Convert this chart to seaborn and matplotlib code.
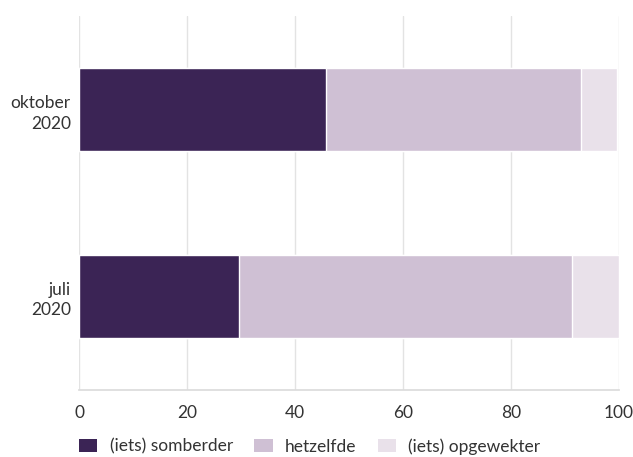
import pandas as pd
import matplotlib.pyplot as plt
import seaborn as sns
from matplotlib.patches import Patch

# Data (percentages)
periods = ['oktober\n2020', 'juli\n2020']
somberder = [45.7, 29.6]
hetzelfde = [47.3, 61.7]
opgewekter = [6.7, 8.7]
series_names = ['(iets) somberder', 'hetzelfde', '(iets) opgewekter']
colors = ['#3b2455', '#cfc0d4', '#e9e1ea']
xticks = [0, 20, 40, 60, 80, 100]

sns.set_theme(style='white')
plt.rcParams['font.family'] = ['Lato', 'DejaVu Sans']

df = pd.DataFrame({'periode': periods, 'somberder': somberder,
                   'hetzelfde': hetzelfde, 'opgewekter': opgewekter})
# Cumulative totals for stacking
df['cum1'] = df['somberder']
df['cum2'] = df['cum1'] + df['hetzelfde']
df['cum3'] = df['cum2'] + df['opgewekter']

fig, ax = plt.subplots(figsize=(6.33, 4.57), dpi=100)
fig.subplots_adjust(left=0.125, right=0.978, top=0.965, bottom=0.147)

# Draw from the longest stack to the shortest so each layer sits on top
for col, color in zip(['cum3', 'cum2', 'cum1'], colors[::-1]):
    sns.barplot(data=df, y='periode', x=col, orient='h', color=color,
                width=0.446, saturation=1, ax=ax, zorder=3)

ax.set_xlim(0, 100)
ax.set_ylim(1.5, -0.5)
ax.set_xticks(xticks)
ax.set_xlabel('')
ax.set_ylabel('')
ax.grid(axis='x', color='#e3e3e3', linewidth=1, zorder=0)
ax.set_axisbelow(True)
for side in ['top', 'right', 'left']:
    ax.spines[side].set_visible(False)
ax.spines['bottom'].set_color('#dcdcdc')
ax.tick_params(axis='both', length=0, labelsize=12.5, colors='#333333')
ax.tick_params(axis='x', pad=11)
ax.tick_params(axis='y', pad=6)
for lab in ax.get_yticklabels():
    lab.set_horizontalalignment('right')
    lab.set_multialignment('right')
    lab.set_linespacing(1.35)

handles = [Patch(facecolor=c, edgecolor='none') for c in colors]
leg = ax.legend(handles, series_names, loc='center left', bbox_to_anchor=(0, -0.151),
                ncol=3, frameon=False, fontsize=12.5, handlelength=1.05, handleheight=0.75,
                handletextpad=0.7, columnspacing=1.25, borderaxespad=0, borderpad=0)
for t in leg.get_texts():
    t.set_color('#333333')

fig.savefig('out.png', dpi=100)
